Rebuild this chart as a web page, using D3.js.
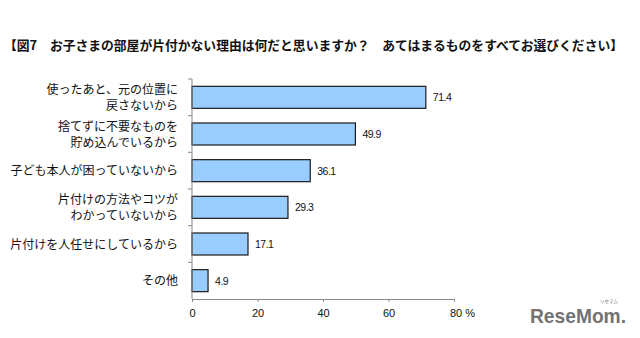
<!DOCTYPE html>
<html>
<head>
<meta charset="utf-8">
<script src="https://cdn.jsdelivr.net/npm/d3@7"></script>
<style>
  html, body { margin: 0; padding: 0; background: #fff; }
  svg { display: block; }
</style>
</head>
<body>
<svg id="chart" width="640" height="338"></svg>
<script>
// Survey answers (percent, multiple choice)
const categories = [
  ["使ったあと、元の位置に", "戻さないから"],
  ["捨てずに不要なものを", "貯め込んでいるから"],
  ["子ども本人が困っていないから"],
  ["片付けの方法やコツが", "わかっていないから"],
  ["片付けを人任せにしているから"],
  ["その他"]
];
const values = [71.4, 49.9, 36.1, 29.3, 17.1, 4.9];
const tickValues = [0, 20, 40, 60, 80];
const titleText = "【図7　お子さまの部屋が片付かない理由は何だと思いますか？　あてはまるものをすべてお選びください】";

const svg = d3.select("#chart");
const jpFont = "'Noto Sans CJK JP', sans-serif";
const numFont = "'Liberation Sans', Arial, sans-serif";

const plotLeft = 192, plotRight = 454, plotTop = 79, plotBottom = 299;

const x = d3.scaleLinear().domain([0, 80]).range([plotLeft, plotRight]);
const y = d3.scaleBand().domain(d3.range(categories.length)).range([plotTop, plotBottom]).paddingInner(0.4).paddingOuter(0.2);

// Title
svg.append("text")
  .attr("x", 4).attr("y", 50)
  .attr("font-family", jpFont).attr("font-size", 12.6).attr("font-weight", "bold")
  .attr("fill", "#111")
  .attr("textLength", 619).attr("lengthAdjust", "spacingAndGlyphs")
  .text(titleText);

// Bars
svg.append("g").selectAll("rect").data(values).join("rect")
  .attr("x", x(0))
  .attr("y", (d, i) => y(i))
  .attr("width", d => x(d) - x(0))
  .attr("height", y.bandwidth())
  .attr("fill", "#99CCFF")
  .attr("stroke", "#1a1a1a")
  .attr("stroke-width", 1.2);

// Value labels
svg.append("g").selectAll("text").data(values).join("text")
  .attr("x", d => x(d) + 7)
  .attr("y", (d, i) => y(i) + y.bandwidth() / 2 + 4)
  .attr("font-family", numFont).attr("font-size", 10.5).attr("fill", "#111")
  .attr("letter-spacing", -0.5)
  .text(d => d.toFixed(1));

// Y axis (category dividers)
const yAxisG = svg.append("g");
yAxisG.append("line")
  .attr("x1", plotLeft).attr("x2", plotLeft).attr("y1", plotTop).attr("y2", plotBottom)
  .attr("stroke", "#888");
const bandStep = (plotBottom - plotTop) / categories.length;
yAxisG.selectAll("line.tick").data(d3.range(categories.length)).join("line")
  .attr("class", "tick")
  .attr("x1", plotLeft - 4).attr("x2", plotLeft)
  .attr("y1", i => plotTop + i * bandStep).attr("y2", i => plotTop + i * bandStep)
  .attr("stroke", "#888");

// Category labels
const labelG = svg.append("g");
categories.forEach((lines, i) => {
  const cy = y(i) + y.bandwidth() / 2;
  const lh = 16;
  const t = labelG.append("text")
    .attr("text-anchor", "end")
    .attr("font-family", jpFont).attr("font-size", 12).attr("fill", "#111");
  lines.forEach((ln, k) => {
    t.append("tspan")
      .attr("x", 178)
      .attr("y", cy + 4.5 + (k - (lines.length - 1) / 2) * lh)
      .text(ln);
  });
});

// X axis
const xAxis = d3.axisBottom(x).tickValues(tickValues).tickSize(3).tickFormat(d => d === 80 ? "80 %" : d);
const xg = svg.append("g").attr("transform", `translate(0,${plotBottom})`).call(xAxis);
xg.select(".domain").attr("stroke", "#888");
xg.selectAll(".tick line").attr("stroke", "#888");
xg.selectAll(".tick text")
  .attr("font-family", numFont).attr("font-size", 11).attr("fill", "#111")
  .attr("dy", "1.1em");
xg.selectAll(".tick text").filter(d => d === 80).attr("dx", 8);

// Site mark
const logo = svg.append("g").attr("fill", "#737373");
logo.append("text")
  .attr("x", 530).attr("y", 323)
  .attr("font-family", "'Liberation Sans', Arial, sans-serif").attr("font-size", 21).attr("font-weight", "bold")
  .attr("textLength", 96).attr("lengthAdjust", "spacingAndGlyphs")
  .text("ReseMom.");
logo.append("text")
  .attr("x", 609).attr("y", 303)
  .attr("font-family", jpFont).attr("font-size", 4.5)
  .attr("text-anchor", "middle")
  .text("リセマム");
</script>
</body>
</html>
